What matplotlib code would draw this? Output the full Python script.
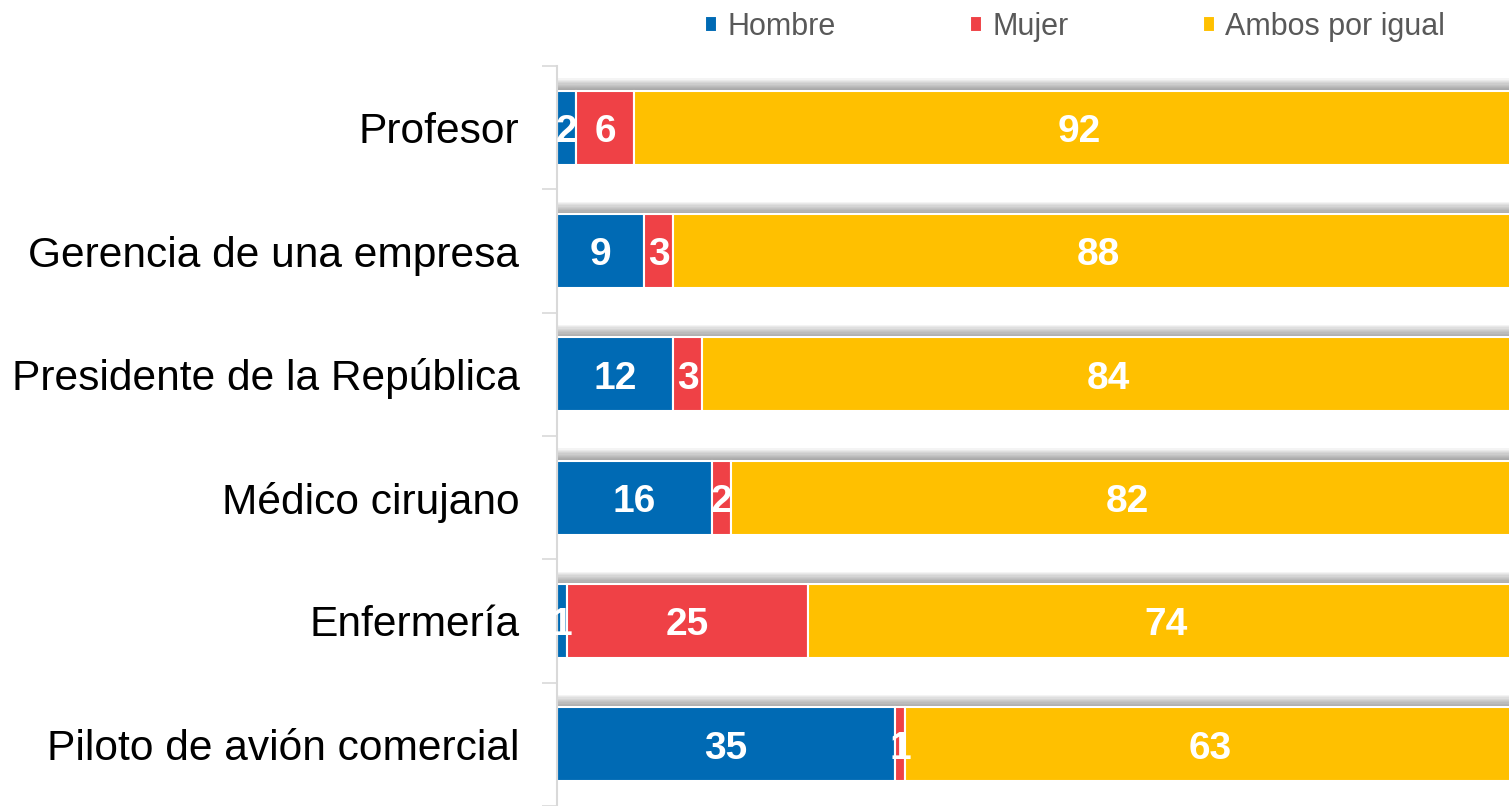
import matplotlib
matplotlib.use('Agg')
import matplotlib.pyplot as plt
import numpy as np

plt.rcParams['font.family'] = ['Liberation Sans', 'DejaVu Sans']

categorias = ['Piloto de avión comercial', 'Enfermería', 'Médico cirujano',
              'Presidente de la República', 'Gerencia de una empresa', 'Profesor']
hombre = [35, 1, 16, 12, 9, 2]
mujer = [1, 25, 2, 3, 3, 6]
ambos = [63, 74, 82, 84, 88, 92]
series = ['Hombre', 'Mujer', 'Ambos por igual']
colores = ['#006AB4', '#EF4146', '#FFC000']

fig = plt.figure(figsize=(15.09, 8.06), dpi=100)
ax = fig.add_axes([557 / 1509, 0, 967 / 1509, 1 - 66 / 806])

y = np.arange(len(categorias))
alto = 0.6
total = np.array(hombre) + np.array(mujer) + np.array(ambos)

# sombra difusa encima de cada barra
for k in range(1, 11):
    ax.barh(y + alto / 2 + k * 0.005, total, height=k * 0.01, left=0,
            color='#444444', alpha=0.06, linewidth=0, zorder=1)

izq = np.zeros(len(categorias))
for nombre, vals, col in zip(series, [hombre, mujer, ambos], colores):
    vals = np.array(vals)
    ax.barh(y, vals, height=alto, left=izq, color=col,
            edgecolor='white', linewidth=1.5, label=nombre, zorder=2)
    for yi, xi, v in zip(y, izq, vals):
        ax.text(xi + v / 2, yi - 0.035, str(v), ha='center', va='center',
                color='white', fontsize=28, fontweight='bold', zorder=3)
    izq = izq + vals

ax.set_xlim(0, 100)
ax.set_ylim(-0.47, len(categorias) - 0.5)
ax.set_yticks(y)
ax.set_yticklabels(categorias, fontsize=30.6)
ax.tick_params(axis='y', which='major', length=0, pad=27)
ax.set_yticks(np.arange(-0.5, len(categorias), 1), minor=True)
ax.tick_params(axis='y', which='minor', length=10.5, color='#D9D9D9', width=1.2)
ax.set_xticks([])
for lado in ['top', 'right', 'bottom']:
    ax.spines[lado].set_visible(False)
ax.spines['left'].set_color('#D9D9D9')
ax.spines['left'].set_linewidth(1.5)

fig.legend(loc='center left', bbox_to_anchor=(705 / 1509, 1 - 27 / 806),
           ncol=3, frameon=False, fontsize=22, labelcolor='#595959',
           handlelength=0.4, handleheight=0.4, handletextpad=0.33,
           columnspacing=4.4, borderpad=0, borderaxespad=0)

fig.savefig('out.png', dpi=100)
